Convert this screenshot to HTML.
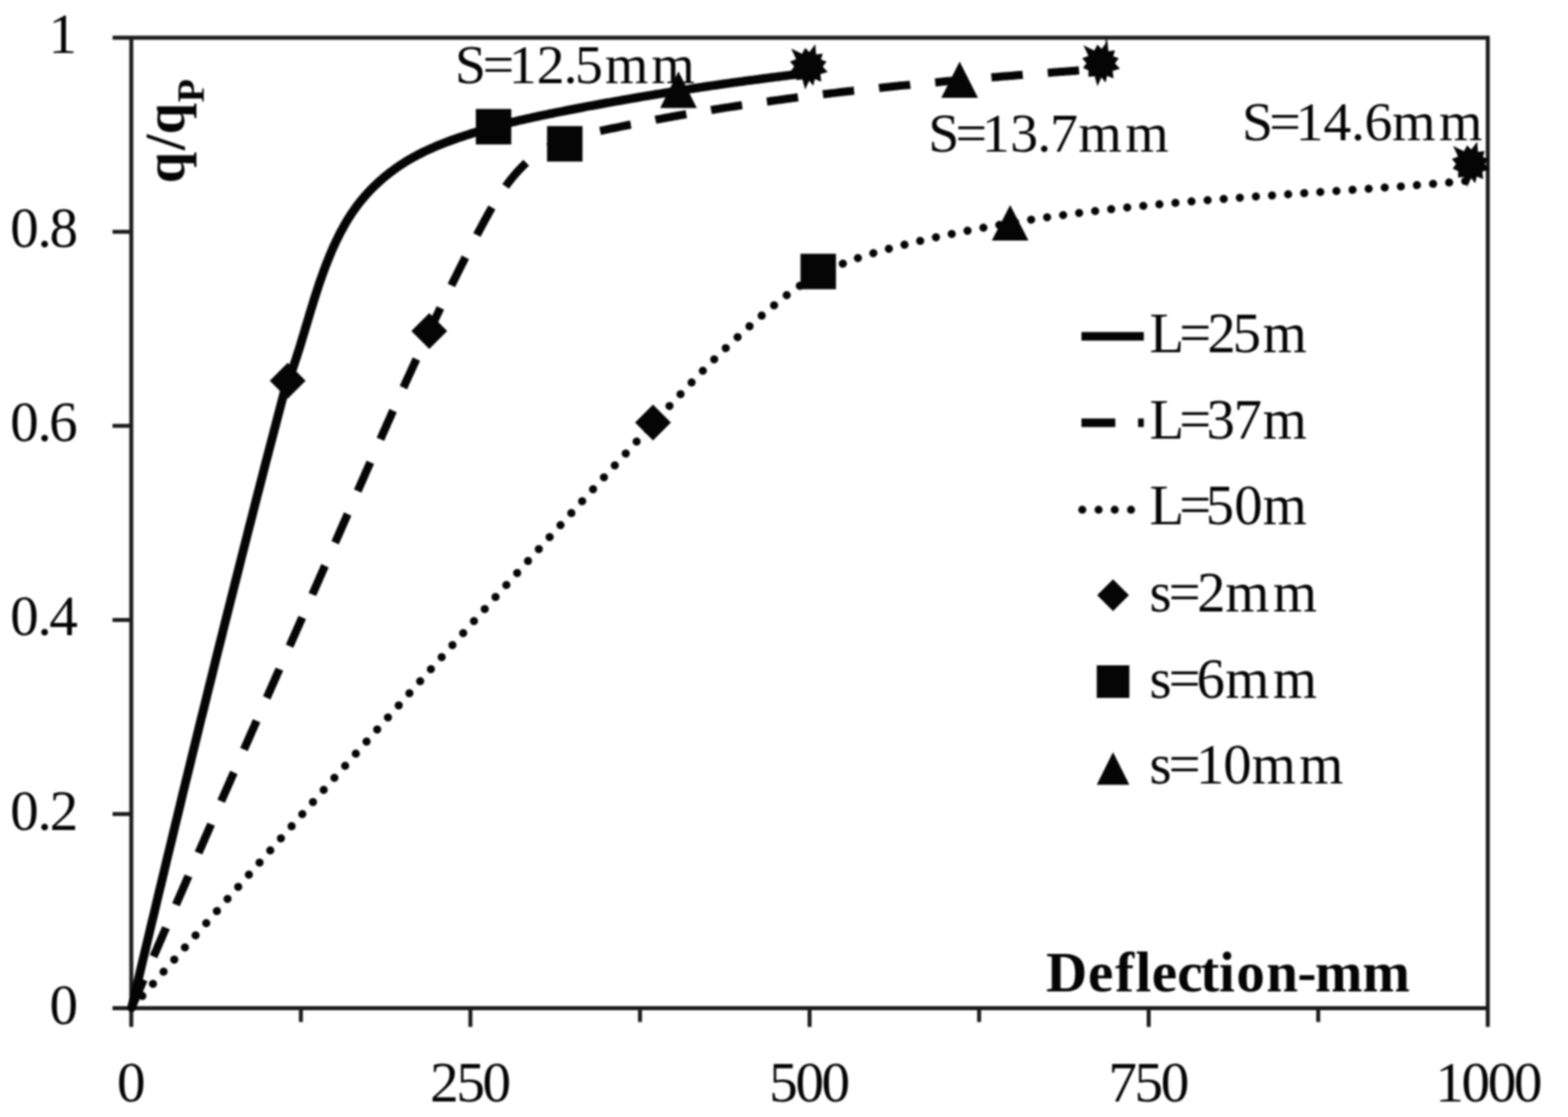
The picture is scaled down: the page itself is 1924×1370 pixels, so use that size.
<!DOCTYPE html>
<html><head><meta charset="utf-8"><title>Chart</title>
<style>
html,body{margin:0;padding:0;background:#fff;}
body{width:1924px;height:1370px;overflow:hidden;}
svg{display:block;filter:blur(1px);}
text{font-family:"Liberation Serif",serif;fill:#050505;}
.b{font-weight:bold;}
</style></head><body>
<svg width="1924" height="1370" viewBox="0 0 1924 1370">
<rect width="1924" height="1370" fill="#fff"/>

<g stroke="#1c1c1c" stroke-width="4.9" fill="none" stroke-linecap="butt">
<line x1="161.1" y1="44.2" x2="161.1" y2="1259.5"/>
<line x1="138.1" y1="1236.5" x2="1827.6" y2="1236.5"/>
<line x1="138.1" y1="46.2" x2="1827.6" y2="46.2"/>
<line x1="1825.6" y1="44.2" x2="1825.6" y2="1259.5"/>
<line x1="138.1" y1="998.4" x2="161.1" y2="998.4"/>
<line x1="138.1" y1="760.4" x2="161.1" y2="760.4"/>
<line x1="138.1" y1="522.3" x2="161.1" y2="522.3"/>
<line x1="138.1" y1="284.3" x2="161.1" y2="284.3"/>
<line x1="369.2" y1="1236.5" x2="369.2" y2="1253.5"/>
<line x1="577.2" y1="1236.5" x2="577.2" y2="1259.5"/>
<line x1="785.3" y1="1236.5" x2="785.3" y2="1253.5"/>
<line x1="993.4" y1="1236.5" x2="993.4" y2="1259.5"/>
<line x1="1201.4" y1="1236.5" x2="1201.4" y2="1253.5"/>
<line x1="1409.5" y1="1236.5" x2="1409.5" y2="1259.5"/>
<line x1="1617.5" y1="1236.5" x2="1617.5" y2="1253.5"/>
<line x1="1357.5" y1="46.2" x2="1357.5" y2="58" stroke-width="2"/>
</g>
<g fill="none" stroke="#050505">
<path d="M161.4,1236.5 L164.5,1223.4 L167.6,1210.3 L170.7,1197.2 L173.8,1184.1 L176.9,1171.1 L180.0,1158.0 L183.1,1144.9 L186.2,1131.8 L189.4,1118.7 L192.5,1105.6 L195.6,1092.5 L198.8,1079.4 L201.9,1066.4 L205.0,1053.3 L208.2,1040.2 L211.4,1027.1 L214.5,1014.0 L217.7,1001.0 L220.9,987.9 L224.0,974.8 L227.2,961.7 L230.4,948.7 L233.6,935.6 L236.8,922.5 L240.0,909.5 L243.2,896.4 L246.4,883.3 L249.7,870.3 L252.9,857.2 L256.1,844.1 L259.4,831.1 L262.6,818.0 L265.8,805.0 L269.1,791.9 L272.4,778.9 L275.6,765.8 L278.9,752.8 L282.2,739.7 L285.5,726.7 L288.8,713.6 L292.1,700.6 L295.4,687.5 L298.7,674.5 L302.0,661.5 L305.3,648.4 L308.7,635.4 L312.0,622.3 L315.3,609.3 L318.7,596.3 L322.0,583.3 L325.4,570.2 L328.8,557.2 L332.2,544.2 L335.6,531.2 L339.0,518.1 L342.4,505.1 L345.8,492.1 L349.2,479.1 L352.6,466.1" stroke-width="10.8" stroke-linejoin="round"/>
<path d="M354.2,465.9 L355.2,463.4 L356.1,460.8 L357.0,458.3 L357.9,455.8 L358.8,453.2 L359.7,450.7 L360.5,448.1 L361.4,445.6 L362.2,443.0 L363.1,440.5 L363.9,437.9 L364.7,435.4 L365.5,432.8 L366.4,430.2 L367.2,427.6 L368.0,425.1 L368.8,422.5 L369.6,419.9 L370.3,417.3 L371.1,414.7 L371.9,412.2 L372.7,409.6 L373.5,407.0 L374.2,404.4 L375.0,401.8 L375.8,399.2 L376.6,396.6 L377.3,394.1 L378.1,391.5 L378.9,388.9 L379.7,386.3 L380.4,383.7 L381.2,381.1 L382.0,378.5 L382.8,376.0 L383.6,373.4 L384.4,370.8 L385.2,368.2 L386.0,365.6 L386.8,363.1 L387.6,360.5 L388.5,357.9 L389.3,355.4 L390.1,352.8 L391.0,350.2 L391.8,347.7 L392.7,345.1 L393.6,342.6 L394.5,340.0 L395.4,337.5 L396.3,335.0 L397.2,332.4 L398.1,329.9 L399.1,327.4 L400.0,324.9 L401.0,322.4 L402.0,319.9 L403.0,317.4 L404.0,314.9 L405.1,312.4 L406.1,309.9 L407.2,307.4 L408.2,305.0 L409.3,302.5 L410.5,300.1 L411.6,297.6 L412.7,295.2 L413.9,292.8 L415.1,290.3 L416.3,287.9 L417.5,285.5 L418.8,283.1 L420.1,280.8 L421.4,278.4 L422.7,276.1 L424.0,273.7 L425.4,271.4 L426.8,269.1 L428.2,266.8 L429.7,264.6 L431.1,262.3 L432.6,260.1 L434.2,257.9 L435.7,255.7 L437.3,253.5 L438.9,251.3 L440.6,249.2 L442.2,247.1 L443.9,245.0 L445.7,242.9 L447.4,240.9 L449.2,238.9 L451.0,236.9 L452.8,234.9 L454.7,232.9 L456.6,231.0 L458.5,229.1 L460.4,227.2 L462.4,225.4 L464.4,223.5 L466.4,221.7 L468.4,219.9 L470.5,218.2 L472.6,216.4 L474.7,214.7 L476.8,213.0 L478.9,211.4 L481.1,209.8 L483.2,208.2 L485.4,206.6 L487.6,205.0 L489.9,203.5 L492.1,202.0 L494.4,200.6 L496.6,199.1 L498.9,197.7 L501.2,196.3 L503.5,195.0 L505.9,193.6 L508.2,192.3 L510.6,191.1 L513.0,189.8 L515.3,188.6 L517.7,187.4 L520.1,186.2 L522.6,185.0 L525.0,183.9 L527.4,182.8 L529.9,181.7 L532.4,180.6 L534.8,179.6 L537.3,178.5 L539.8,177.5 L542.3,176.5 L544.8,175.5 L547.3,174.5 L549.8,173.6 L552.4,172.6 L554.9,171.7 L557.4,170.8 L560.0,169.9 L562.5,169.0 L565.1,168.2 L567.7,167.3 L570.2,166.5 L572.8,165.6 L575.4,164.8 L577.9,164.0 L580.5,163.2 L583.1,162.4 L585.7,161.6 L588.3,160.8 L590.9,160.0 L593.4,159.2 L596.0,158.5 L598.6,157.7 L601.2,157.0 L603.8,156.3 L606.4,155.5 L609.0,154.8 L611.6,154.1 L614.2,153.4 L616.8,152.8 L619.4,152.1 L622.1,151.4 L624.7,150.8 L627.3,150.1 L629.9,149.5 L632.5,148.9 L635.1,148.2 L637.8,147.6 L640.4,147.0 L643.0,146.4 L645.6,145.8 L648.3,145.2 L650.9,144.7 L653.5,144.1 L656.2,143.5 L658.8,142.9 L661.4,142.4 L664.1,141.8 L666.7,141.3 L669.3,140.7 L672.0,140.2 L674.6,139.6 L677.3,139.1 L679.9,138.6 L682.5,138.0 L685.2,137.5 L687.8,137.0 L690.5,136.5 L693.1,135.9 L695.8,135.4 L698.4,134.9 L701.1,134.4 L703.7,133.9 L706.3,133.4 L709.0,132.9 L711.6,132.4 L714.3,131.9 L716.9,131.3 L719.6,130.8 L722.2,130.3 L724.9,129.8 L727.5,129.4 L730.2,128.9 L732.8,128.4 L735.5,127.9 L738.1,127.4 L740.8,126.9 L743.4,126.4 L746.1,125.9 L748.7,125.5 L751.4,125.0 L754.0,124.5 L756.7,124.0 L759.4,123.6 L762.0,123.1 L764.7,122.6 L767.3,122.2 L770.0,121.7 L772.6,121.2 L775.3,120.8 L777.9,120.3 L780.6,119.9 L783.3,119.4 L785.9,118.9 L788.6,118.5 L791.2,118.0 L793.9,117.6 L796.6,117.2 L799.2,116.7 L801.9,116.3 L804.5,115.8 L807.2,115.4 L809.9,115.0 L812.5,114.5 L815.2,114.1 L817.8,113.7 L820.5,113.2 L823.2,112.8 L825.8,112.4 L828.5,112.0 L831.1,111.5 L833.8,111.1 L836.5,110.7 L839.1,110.3 L841.8,109.9 L844.5,109.5 L847.1,109.0 L849.8,108.6 L852.5,108.2 L855.1,107.8 L857.8,107.4 L860.5,107.0 L863.1,106.6 L865.8,106.2 L868.5,105.8 L871.1,105.4 L873.8,105.0 L876.5,104.7 L879.1,104.3 L881.8,103.9 L884.5,103.5 L887.1,103.1 L889.8,102.7 L892.5,102.4 L895.1,102.0 L897.8,101.6 L900.5,101.2 L903.2,100.9 L905.8,100.5 L908.5,100.1 L911.2,99.8 L913.8,99.4 L916.5,99.0 L919.2,98.7 L921.9,98.3 L924.5,98.0 L927.2,97.6 L929.9,97.3 L932.5,96.9 L935.2,96.6 L937.9,96.2 L940.6,95.9 L943.2,95.5 L945.9,95.2 L948.6,94.8 L951.2,94.5 L953.9,94.2 L956.6,93.8 L959.3,93.5 L961.9,93.2 L964.6,92.8 L967.3,92.5 L970.0,92.2 L972.6,91.9 L975.3,91.5 L978.0,91.2" stroke-width="10.8" stroke-linejoin="round"/>
<path d="M161.4,1236.4 L162.3,1234.3 L163.2,1232.1 L164.1,1230.0 L165.0,1227.9 L165.9,1225.8 L166.8,1223.6 L167.7,1221.5 L168.6,1219.4 L169.5,1217.2 L170.4,1215.1 L171.3,1213.0 L172.3,1210.9 L173.2,1208.7 L174.1,1206.6 L175.0,1204.5 L175.9,1202.3 L176.8,1200.2 L177.7,1198.1 L178.6,1196.0 L179.6,1193.8 L180.5,1191.7 L181.4,1189.6 L182.3,1187.5 L183.2,1185.3 L184.1,1183.2 L185.0,1181.1 L186.0,1178.9 L186.9,1176.8 L187.8,1174.7 L188.7,1172.6 L189.6,1170.4 L190.5,1168.3 L191.5,1166.2 L192.4,1164.1 L193.3,1161.9 L194.2,1159.8 L195.1,1157.7 L196.0,1155.6 L197.0,1153.4 L197.9,1151.3 L198.8,1149.2 L199.7,1147.0 L200.6,1144.9 L201.5,1142.8 L202.5,1140.7 L203.4,1138.5 L204.3,1136.4 L205.2,1134.3 L206.2,1132.2 L207.1,1130.0 L208.0,1127.9 L208.9,1125.8 L209.8,1123.7 L210.8,1121.5 L211.7,1119.4 L212.6,1117.3 L213.5,1115.2 L214.4,1113.0 L215.4,1110.9 L216.3,1108.8 L217.2,1106.7 L218.1,1104.5 L219.1,1102.4 L220.0,1100.3 L220.9,1098.2 L221.8,1096.0 L222.8,1093.9 L223.7,1091.8 L224.6,1089.7 L225.5,1087.5 L226.5,1085.4 L227.4,1083.3 L228.3,1081.2 L229.2,1079.0 L230.2,1076.9 L231.1,1074.8 L232.0,1072.7 L232.9,1070.5 L233.9,1068.4 L234.8,1066.3 L235.7,1064.2 L236.7,1062.0 L237.6,1059.9 L238.5,1057.8 L239.4,1055.7 L240.4,1053.5 L241.3,1051.4 L242.2,1049.3 L243.2,1047.2 L244.1,1045.0 L245.0,1042.9 L245.9,1040.8 L246.9,1038.7 L247.8,1036.5 L248.7,1034.4 L249.7,1032.3 L250.6,1030.2 L251.5,1028.0 L252.4,1025.9 L253.4,1023.8 L254.3,1021.7 L255.2,1019.5 L256.2,1017.4 L257.1,1015.3 L258.0,1013.2 L259.0,1011.1 L259.9,1008.9 L260.8,1006.8 L261.8,1004.7 L262.7,1002.6 L263.6,1000.4 L264.6,998.3 L265.5,996.2 L266.4,994.1 L267.4,991.9 L268.3,989.8 L269.2,987.7 L270.2,985.6 L271.1,983.4 L272.0,981.3 L273.0,979.2 L273.9,977.1 L274.8,975.0 L275.8,972.8 L276.7,970.7 L277.6,968.6 L278.6,966.5 L279.5,964.3 L280.4,962.2 L281.4,960.1 L282.3,958.0 L283.2,955.8 L284.2,953.7 L285.1,951.6 L286.0,949.5 L287.0,947.4 L287.9,945.2 L288.8,943.1 L289.8,941.0 L290.7,938.9 L291.6,936.7 L292.6,934.6 L293.5,932.5 L294.4,930.4 L295.4,928.3 L296.3,926.1 L297.3,924.0 L298.2,921.9 L299.1,919.8 L300.1,917.6 L301.0,915.5 L301.9,913.4 L302.9,911.3 L303.8,909.2 L304.7,907.0 L305.7,904.9 L306.6,902.8 L307.5,900.7 L308.5,898.5 L309.4,896.4 L310.4,894.3 L311.3,892.2 L312.2,890.1 L313.2,887.9 L314.1,885.8 L315.0,883.7 L316.0,881.6 L316.9,879.4 L317.8,877.3 L318.8,875.2 L319.7,873.1 L320.7,871.0 L321.6,868.8 L322.5,866.7 L323.5,864.6 L324.4,862.5 L325.3,860.3 L326.3,858.2 L327.2,856.1 L328.2,854.0 L329.1,851.9 L330.0,849.7 L331.0,847.6 L331.9,845.5 L332.8,843.4 L333.8,841.2 L334.7,839.1 L335.7,837.0 L336.6,834.9 L337.5,832.8 L338.5,830.6 L339.4,828.5 L340.3,826.4 L341.3,824.3 L342.2,822.2 L343.1,820.0 L344.1,817.9 L345.0,815.8 L346.0,813.7 L346.9,811.5 L347.8,809.4 L348.8,807.3 L349.7,805.2 L350.6,803.1 L351.6,800.9 L352.5,798.8 L353.4,796.7 L354.4,794.6 L355.3,792.5 L356.3,790.3 L357.2,788.2 L358.1,786.1 L359.1,784.0 L360.0,781.8 L360.9,779.7 L361.9,777.6 L362.8,775.5 L363.7,773.4 L364.7,771.2 L365.6,769.1 L366.6,767.0 L367.5,764.9 L368.4,762.8 L369.4,760.6 L370.3,758.5 L371.2,756.4 L372.2,754.3 L373.1,752.2 L374.0,750.0 L375.0,747.9 L375.9,745.8 L376.8,743.7 L377.8,741.5 L378.7,739.4 L379.7,737.3 L380.6,735.2 L381.5,733.1 L382.5,730.9 L383.4,728.8 L384.3,726.7 L385.3,724.6 L386.2,722.5 L387.1,720.3 L388.1,718.2 L389.0,716.1 L389.9,714.0 L390.9,711.9 L391.8,709.7 L392.7,707.6 L393.7,705.5 L394.6,703.4 L395.5,701.2 L396.5,699.1 L397.4,697.0 L398.3,694.9 L399.3,692.8 L400.2,690.6 L401.1,688.5 L402.1,686.4 L403.0,684.3 L403.9,682.2 L404.9,680.0 L405.8,677.9 L406.7,675.8 L407.7,673.7 L408.6,671.6 L409.5,669.4 L410.4,667.3 L411.4,665.2 L412.3,663.1 L413.2,660.9 L414.2,658.8 L415.1,656.7 L416.0,654.6 L417.0,652.5 L417.9,650.3 L418.8,648.2 L419.7,646.1 L420.7,644.0 L421.6,641.9 L422.5,639.7 L423.5,637.6 L424.4,635.5 L425.3,633.4 L426.2,631.2 L427.2,629.1 L428.1,627.0 L429.0,624.9 L430.0,622.8 L430.9,620.6 L431.8,618.5 L432.7,616.4 L433.7,614.3 L434.6,612.2 L435.5,610.0 L436.5,607.9 L437.4,605.8 L438.3,603.7 L439.2,601.6 L440.2,599.4 L441.1,597.3 L442.0,595.2 L442.9,593.1 L443.9,591.0 L444.8,588.8 L445.7,586.7 L446.7,584.6 L447.6,582.5 L448.5,580.4 L449.4,578.2 L450.4,576.1 L451.3,574.0 L452.2,571.9 L453.2,569.8 L454.1,567.6 L455.0,565.5 L455.9,563.4 L456.9,561.3 L457.8,559.2 L458.7,557.0 L459.7,554.9 L460.6,552.8 L461.5,550.7 L462.5,548.6 L463.4,546.4 L464.3,544.3 L465.3,542.2 L466.2,540.1 L467.1,538.0 L468.1,535.9 L469.0,533.7 L469.9,531.6 L470.9,529.5 L471.8,527.4 L472.7,525.3 L473.7,523.2 L474.6,521.0 L475.5,518.9 L476.5,516.8 L477.4,514.7 L478.4,512.6 L479.3,510.5 L480.2,508.4 L481.2,506.2 L482.1,504.1 L483.1,502.0 L484.0,499.9 L485.0,497.8 L485.9,495.7 L486.8,493.6 L487.8,491.4 L488.7,489.3 L489.7,487.2 L490.6,485.1 L491.6,483.0 L492.5,480.9 L493.5,478.8 L494.4,476.7 L495.4,474.6 L496.3,472.5 L497.3,470.3 L498.2,468.2 L499.2,466.1 L500.2,464.0 L501.1,461.9 L502.1,459.8 L503.0,457.7 L504.0,455.6 L505.0,453.5 L505.9,451.4 L506.9,449.3 L507.8,447.2 L508.8,445.1 L509.8,443.0 L510.7,440.8 L511.7,438.7 L512.7,436.6 L513.7,434.5 L514.6,432.4 L515.6,430.3 L516.6,428.2 L517.5,426.1 L518.5,424.0 L519.5,421.9 L520.5,419.8 L521.5,417.7 L522.4,415.6 L523.4,413.5 L524.4,411.4 L525.4,409.3 L526.4,407.2 L527.4,405.1 L528.3,403.0 L529.3,400.9 L530.3,398.8 L531.3,396.7 L532.3,394.7 L533.3,392.6 L534.3,390.5 L535.3,388.4 L536.3,386.3 L537.3,384.2 L538.3,382.1 L539.3,380.0 L540.3,377.9 L541.3,375.8 L542.3,373.7 L543.3,371.6 L544.3,369.6 L545.4,367.5 L546.4,365.4 L547.4,363.3 L548.4,361.2 L549.4,359.1 L550.4,357.0 L551.5,354.9 L552.5,352.9 L553.5,350.8 L554.5,348.7 L555.6,346.6 L556.6,344.5 L557.6,342.4 L558.7,340.4 L559.7,338.3 L560.7,336.2 L561.8,334.1 L562.8,332.0 L563.8,330.0 L564.9,327.9 L565.9,325.8 L567.0,323.7 L568.0,321.7 L569.1,319.6 L570.1,317.5 L571.2,315.4 L572.2,313.4 L573.3,311.3 L574.4,309.2 L575.4,307.1 L576.5,305.1 L577.5,303.0 L578.6,300.9 L579.7,298.9 L580.8,296.8 L581.8,294.7 L582.9,292.7 L584.0,290.6 L585.1,288.5 L586.1,286.5 L587.2,284.4 L588.3,282.3 L589.4,280.3 L590.5,278.2 L591.6,276.2 L592.7,274.1 L593.8,272.1 L594.9,270.0 L596.0,268.0 L597.2,265.9 L598.3,263.9 L599.4,261.9 L600.6,259.8 L601.7,257.8 L602.9,255.8 L604.1,253.8 L605.3,251.8 L606.5,249.8 L607.7,247.8 L608.9,245.8 L610.1,243.9 L611.4,241.9 L612.6,240.0 L613.9,238.0 L615.2,236.1 L616.5,234.2 L617.8,232.3 L619.2,230.4 L620.5,228.5 L621.9,226.6 L623.3,224.7 L624.7,222.9 L626.1,221.1 L627.6,219.2 L629.1,217.4 L630.5,215.7 L632.0,213.9 L633.6,212.1 L635.1,210.4 L636.7,208.7 L638.3,207.0 L639.9,205.4 L641.5,203.8 L643.1,202.2 L644.8,200.6 L646.5,199.0 L648.2,197.5 L649.9,196.0 L651.7,194.6 L653.4,193.1 L655.2,191.7 L657.0,190.4 L658.9,189.0 L660.7,187.7 L662.6,186.5 L664.5,185.3 L666.5,184.1 L668.4,182.9 L670.4,181.8 L672.4,180.8 L674.4,179.7 L676.4,178.7 L678.5,177.8 L680.6,176.8 L682.6,175.9 L684.8,175.1 L686.9,174.2 L689.0,173.4 L691.2,172.6 L693.3,171.8 L695.5,171.1 L697.7,170.4 L699.9,169.7 L702.1,169.0 L704.4,168.4 L706.6,167.7 L708.8,167.1 L711.1,166.5 L713.4,165.9 L715.6,165.3 L717.9,164.8 L720.2,164.2 L722.5,163.7 L724.7,163.2 L727.0,162.6 L729.3,162.1 L731.6,161.6 L733.9,161.1 L736.2,160.6 L738.5,160.1 L740.8,159.7 L743.1,159.2 L745.4,158.7 L747.7,158.2 L750.0,157.7 L752.2,157.2 L754.5,156.8 L756.8,156.3 L759.1,155.8 L761.4,155.4 L763.7,154.9 L765.9,154.4 L768.2,154.0 L770.5,153.5 L772.8,153.0 L775.1,152.6 L777.3,152.1 L779.6,151.7 L781.9,151.2 L784.2,150.8 L786.4,150.3 L788.7,149.9 L791.0,149.4 L793.3,149.0 L795.5,148.6 L797.8,148.1 L800.1,147.7 L802.4,147.3 L804.6,146.8 L806.9,146.4 L809.2,146.0 L811.5,145.6 L813.7,145.1 L816.0,144.7 L818.3,144.3 L820.6,143.9 L822.9,143.5 L825.1,143.0 L827.4,142.6 L829.7,142.2 L832.0,141.8 L834.3,141.4 L836.5,141.0 L838.8,140.6 L841.1,140.2 L843.4,139.8 L845.7,139.4 L847.9,139.0 L850.2,138.6 L852.5,138.3 L854.8,137.9 L857.1,137.5 L859.4,137.1 L861.6,136.7 L863.9,136.3 L866.2,136.0 L868.5,135.6 L870.8,135.2 L873.1,134.8 L875.4,134.5 L877.6,134.1 L879.9,133.7 L882.2,133.4 L884.5,133.0 L886.8,132.6 L889.1,132.3 L891.4,131.9 L893.7,131.6 L895.9,131.2 L898.2,130.9 L900.5,130.5 L902.8,130.2 L905.1,129.8 L907.4,129.5 L909.7,129.1 L912.0,128.8 L914.3,128.4 L916.5,128.1 L918.8,127.8 L921.1,127.4 L923.4,127.1 L925.7,126.8 L928.0,126.4 L930.3,126.1 L932.6,125.8 L934.9,125.4 L937.2,125.1 L939.5,124.8 L941.8,124.5 L944.0,124.2 L946.3,123.8 L948.6,123.5 L950.9,123.2 L953.2,122.9 L955.5,122.6 L957.8,122.3 L960.1,122.0 L962.4,121.6 L964.7,121.3 L967.0,121.0 L969.3,120.7 L971.6,120.4 L973.9,120.1 L976.2,119.8 L978.5,119.5 L980.8,119.2 L983.1,118.9 L985.4,118.6 L987.7,118.4 L990.0,118.1 L992.3,117.8 L994.6,117.5 L996.9,117.2 L999.2,116.9 L1001.5,116.6 L1003.8,116.3 L1006.1,116.1 L1008.4,115.8 L1010.7,115.5 L1013.0,115.2 L1015.3,115.0 L1017.6,114.7 L1019.9,114.4 L1022.2,114.1 L1024.5,113.9 L1026.8,113.6 L1029.1,113.3 L1031.4,113.1 L1033.7,112.8 L1036.0,112.5 L1038.3,112.3 L1040.6,112.0 L1042.9,111.7 L1045.2,111.5 L1047.5,111.2 L1049.8,111.0 L1052.1,110.7 L1054.4,110.4 L1056.7,110.2 L1059.0,109.9 L1061.3,109.7 L1063.6,109.4 L1065.9,109.2 L1068.2,108.9 L1070.5,108.7 L1072.8,108.4 L1075.1,108.2 L1077.4,108.0 L1079.7,107.7 L1082.0,107.5 L1084.3,107.2 L1086.6,107.0 L1088.9,106.8 L1091.2,106.5 L1093.5,106.3 L1095.9,106.0 L1098.2,105.8 L1100.5,105.6 L1102.8,105.3 L1105.1,105.1 L1107.4,104.9 L1109.7,104.6 L1112.0,104.4 L1114.3,104.2 L1116.6,104.0 L1118.9,103.7 L1121.2,103.5 L1123.5,103.3 L1125.8,103.1 L1128.1,102.8 L1130.4,102.6 L1132.8,102.4 L1135.1,102.2 L1137.4,102.0 L1139.7,101.7 L1142.0,101.5 L1144.3,101.3 L1146.6,101.1 L1148.9,100.9 L1151.2,100.7 L1153.5,100.5 L1155.8,100.2 L1158.1,100.0 L1160.4,99.8 L1162.8,99.6 L1165.1,99.4 L1167.4,99.2 L1169.7,99.0 L1172.0,98.8 L1174.3,98.6 L1176.6,98.4 L1178.9,98.2 L1181.2,98.0 L1183.5,97.8 L1185.8,97.5 L1188.2,97.3 L1190.5,97.1 L1192.8,96.9 L1195.1,96.7 L1197.4,96.5 L1199.7,96.3 L1202.0,96.1 L1204.3,95.9 L1206.6,95.8 L1208.9,95.6 L1211.2,95.4 L1213.6,95.2 L1215.9,95.0 L1218.2,94.8 L1220.5,94.6 L1222.8,94.4 L1225.1,94.2 L1227.4,94.0 L1229.7,93.8 L1232.0,93.6 L1234.3,93.4 L1236.7,93.2 L1239.0,93.1 L1241.3,92.9 L1243.6,92.7 L1245.9,92.5 L1248.2,92.3 L1250.5,92.1 L1252.8,91.9 L1255.1,91.7 L1257.4,91.6 L1259.8,91.4 L1262.1,91.2 L1264.4,91.0 L1266.7,90.8 L1269.0,90.6 L1271.3,90.5 L1273.6,90.3 L1275.9,90.1 L1278.2,89.9 L1280.5,89.7 L1282.9,89.5 L1285.2,89.4 L1287.5,89.2 L1289.8,89.0 L1292.1,88.8 L1294.4,88.6 L1296.7,88.5 L1299.0,88.3 L1301.3,88.1 L1303.6,87.9 L1306.0,87.7 L1308.3,87.6 L1310.6,87.4 L1312.9,87.2 L1315.2,87.0 L1317.5,86.9 L1319.8,86.7 L1322.1,86.5 L1324.4,86.3 L1326.7,86.2 L1329.1,86.0 L1331.4,85.8 L1333.7,85.6 L1336.0,85.4" stroke-width="10.0" stroke-dasharray="0 0.0 37.9 30.8 38.5 30.8 38.5 30.8 38.5 30.8 38.5 30.8 38.5 30.8 38.5 30.8 38.5 30.8 38.5 30.8 38.5 30.8 38.5 30.8 38.5 30.8 38.5 30.8 38.5 30.8 38.5 30.8 38.5 30.8 38.5 33.31 35.99 30.8 38.5 30.8 38.5 30.8 38.5 30.8 38.5 30.8 38.5 30.8 38.5 30.8 38.5 30.8 38.5 30.8 38.5 9999"/>
<path d="M161.5,1236.4 L164.2,1233.3 L166.9,1230.2 L169.6,1227.2 L172.3,1224.1 L175.1,1221.0 L177.8,1217.9 L180.5,1214.8 L183.2,1211.7 L185.9,1208.6 L188.7,1205.5 L191.4,1202.4 L194.1,1199.3 L196.8,1196.2 L199.5,1193.1 L202.3,1190.0 L205.0,1186.9 L207.7,1183.8 L210.4,1180.7 L213.2,1177.6 L215.9,1174.5 L218.6,1171.4 L221.3,1168.3 L224.1,1165.2 L226.8,1162.1 L229.5,1159.0 L232.2,1155.9 L234.9,1152.8 L237.7,1149.7 L240.4,1146.7 L243.1,1143.6 L245.8,1140.5 L248.6,1137.4 L251.3,1134.3 L254.0,1131.2 L256.7,1128.1 L259.5,1125.0 L262.2,1121.9 L264.9,1118.8 L267.6,1115.7 L270.4,1112.6 L273.1,1109.5 L275.8,1106.4 L278.5,1103.3 L281.3,1100.2 L284.0,1097.1 L286.7,1094.0 L289.5,1090.9 L292.2,1087.8 L294.9,1084.7 L297.6,1081.6 L300.4,1078.5 L303.1,1075.4 L305.8,1072.3 L308.6,1069.2 L311.3,1066.1 L314.0,1063.0 L316.7,1059.9 L319.5,1056.8 L322.2,1053.7 L324.9,1050.6 L327.7,1047.6 L330.4,1044.5 L333.1,1041.4 L335.8,1038.3 L338.6,1035.2 L341.3,1032.1 L344.0,1029.0 L346.8,1025.9 L349.5,1022.8 L352.2,1019.7 L355.0,1016.6 L357.7,1013.5 L360.4,1010.4 L363.2,1007.3 L365.9,1004.2 L368.6,1001.1 L371.4,998.0 L374.1,994.9 L376.8,991.8 L379.6,988.7 L382.3,985.7 L385.0,982.6 L387.8,979.5 L390.5,976.4 L393.2,973.3 L396.0,970.2 L398.7,967.1 L401.5,964.0 L404.2,960.9 L406.9,957.8 L409.7,954.7 L412.4,951.6 L415.1,948.5 L417.9,945.5 L420.6,942.4 L423.4,939.3 L426.1,936.2 L428.8,933.1 L431.6,930.0 L434.3,926.9 L437.1,923.8 L439.8,920.7 L442.5,917.6 L445.3,914.5 L448.0,911.5 L450.8,908.4 L453.5,905.3 L456.2,902.2 L459.0,899.1 L461.7,896.0 L464.5,892.9 L467.2,889.8 L470.0,886.8 L472.7,883.7 L475.4,880.6 L478.2,877.5 L480.9,874.4 L483.7,871.3 L486.4,868.2 L489.2,865.2 L491.9,862.1 L494.7,859.0 L497.4,855.9 L500.2,852.8 L502.9,849.7 L505.6,846.6 L508.4,843.6 L511.1,840.5 L513.9,837.4 L516.6,834.3 L519.4,831.2 L522.1,828.2 L524.9,825.1 L527.6,822.0 L530.4,818.9 L533.1,815.8 L535.9,812.7 L538.6,809.7 L541.4,806.6 L544.1,803.5 L546.9,800.4 L549.6,797.4 L552.4,794.3 L555.2,791.2 L557.9,788.1 L560.7,785.0 L563.4,782.0 L566.2,778.9 L568.9,775.8 L571.7,772.7 L574.4,769.7 L577.2,766.6 L580.0,763.5 L582.7,760.4 L585.5,757.4 L588.2,754.3 L591.0,751.2 L593.7,748.2 L596.5,745.1 L599.3,742.0 L602.0,738.9 L604.8,735.9 L607.5,732.8 L610.3,729.7 L613.1,726.7 L615.8,723.6 L618.6,720.5 L621.3,717.5 L624.1,714.4 L626.9,711.3 L629.6,708.3 L632.4,705.2 L635.2,702.1 L637.9,699.1 L640.7,696.0 L643.5,692.9 L646.2,689.9 L649.0,686.8 L651.8,683.7 L654.5,680.7 L657.3,677.6 L660.1,674.6 L662.8,671.5 L665.6,668.4 L668.4,665.4 L671.1,662.3 L673.9,659.3 L676.7,656.2 L679.4,653.1 L682.2,650.1 L685.0,647.0 L687.8,644.0 L690.5,640.9 L693.3,637.9 L696.1,634.8 L698.9,631.8 L701.6,628.7 L704.4,625.6 L707.2,622.6 L710.0,619.5 L712.7,616.5 L715.5,613.4 L718.3,610.4 L721.1,607.3 L723.8,604.3 L726.6,601.2 L729.4,598.2 L732.2,595.2 L735.0,592.1 L737.7,589.1 L740.5,586.0 L743.3,583.0 L746.1,579.9 L748.9,576.9 L751.6,573.8 L754.4,570.8 L757.2,567.8 L760.0,564.7 L762.8,561.7 L765.6,558.6 L768.4,555.6 L771.1,552.6 L773.9,549.5 L776.7,546.5 L779.5,543.4 L782.3,540.4 L785.1,537.4 L787.9,534.3 L790.7,531.3 L793.4,528.3 L796.2,525.2 L799.0,522.2 L801.8,519.2 L804.6,516.1 L807.4,513.1 L810.2,510.1 L813.0,507.1 L815.8,504.0 L818.6,501.0 L821.4,498.0 L824.2,495.0 L827.0,492.0 L829.8,488.9 L832.6,485.9 L835.5,482.9 L838.3,479.9 L841.1,476.9 L843.9,474.0 L846.8,471.0 L849.6,468.0 L852.5,465.0 L855.4,462.1 L858.2,459.1 L861.1,456.1 L864.0,453.2 L866.9,450.3 L869.8,447.3 L872.7,444.4 L875.6,441.5 L878.6,438.6 L881.5,435.7 L884.5,432.8 L887.4,430.0 L890.4,427.1 L893.4,424.2 L896.4,421.4 L899.4,418.6 L902.4,415.8 L905.5,413.0 L908.5,410.2 L911.6,407.4 L914.7,404.6 L917.8,401.8 L920.9,399.1 L924.0,396.4 L927.1,393.6 L930.2,390.9 L933.4,388.2 L936.5,385.5 L939.7,382.8 L942.9,380.2 L946.1,377.5 L949.3,374.9 L952.5,372.2 L955.7,369.6 L959.0,367.0 L962.2,364.4 L965.5,361.9 L968.8,359.4 L972.1,356.9 L975.5,354.5 L978.9,352.2 L982.3,349.9 L985.7,347.6 L989.2,345.5 L992.7,343.4 L996.3,341.3 L999.8,339.3 L1003.4,337.4 L1007.1,335.5 L1010.7,333.7 L1014.4,331.9 L1018.1,330.2 L1021.8,328.5 L1025.6,326.9 L1029.4,325.3 L1033.1,323.8 L1037.0,322.3 L1040.8,320.8 L1044.6,319.4 L1048.5,318.0 L1052.4,316.6 L1056.3,315.3 L1060.2,314.0 L1064.1,312.8 L1068.1,311.6 L1072.0,310.4 L1076.0,309.2 L1080.0,308.1 L1083.9,306.9 L1087.9,305.9 L1091.9,304.8 L1095.9,303.7 L1099.9,302.7 L1104.0,301.6 L1108.0,300.6 L1112.0,299.6 L1116.0,298.6 L1120.0,297.7 L1124.0,296.7 L1128.1,295.7 L1132.1,294.8 L1136.1,293.9 L1140.2,292.9 L1144.2,292.0 L1148.2,291.1 L1152.3,290.2 L1156.3,289.4 L1160.3,288.5 L1164.4,287.6 L1168.4,286.8 L1172.4,286.0 L1176.5,285.1 L1180.5,284.3 L1184.6,283.5 L1188.6,282.7 L1192.7,281.9 L1196.7,281.2 L1200.8,280.4 L1204.8,279.6 L1208.9,278.9 L1213.0,278.1 L1217.0,277.4 L1221.1,276.7 L1225.1,276.0 L1229.2,275.3 L1233.3,274.6 L1237.3,273.9 L1241.4,273.2 L1245.5,272.6 L1249.5,271.9 L1253.6,271.2 L1257.7,270.6 L1261.8,270.0 L1265.8,269.3 L1269.9,268.7 L1274.0,268.1 L1278.1,267.5 L1282.2,266.9 L1286.2,266.3 L1290.3,265.8 L1294.4,265.2 L1298.5,264.6 L1302.6,264.1 L1306.7,263.5 L1310.7,263.0 L1314.8,262.4 L1318.9,261.9 L1323.0,261.4 L1327.1,260.9 L1331.2,260.4 L1335.3,259.9 L1339.4,259.4 L1343.5,258.9 L1347.6,258.4 L1351.7,257.9 L1355.8,257.5 L1359.9,257.0 L1364.0,256.5 L1368.1,256.1 L1372.2,255.6 L1376.3,255.2 L1380.4,254.8 L1384.5,254.3 L1388.6,253.9 L1392.7,253.5 L1396.8,253.1 L1400.9,252.7 L1405.0,252.3 L1409.1,251.9 L1413.2,251.5 L1417.4,251.1 L1421.5,250.7 L1425.6,250.3 L1429.7,249.9 L1433.8,249.5 L1437.9,249.2 L1442.0,248.8 L1446.1,248.5 L1450.3,248.1 L1454.4,247.7 L1458.5,247.4 L1462.6,247.0 L1466.7,246.7 L1470.8,246.4 L1474.9,246.0 L1479.1,245.7 L1483.2,245.4 L1487.3,245.0 L1491.4,244.7 L1495.5,244.4 L1499.7,244.1 L1503.8,243.8 L1507.9,243.4 L1512.0,243.1 L1516.1,242.8 L1520.3,242.5 L1524.4,242.2 L1528.5,241.9 L1532.6,241.6 L1536.7,241.3 L1540.9,241.0 L1545.0,240.7 L1549.1,240.4 L1553.2,240.1 L1557.3,239.9 L1561.5,239.6 L1565.6,239.3 L1569.7,239.0 L1573.8,238.7 L1578.0,238.4 L1582.1,238.1 L1586.2,237.9 L1590.3,237.6 L1594.4,237.3 L1598.6,237.0 L1602.7,236.7 L1606.8,236.5 L1610.9,236.2 L1615.1,235.9 L1619.2,235.6 L1623.3,235.3 L1627.4,235.1 L1631.5,234.8 L1635.7,234.5 L1639.8,234.2 L1643.9,233.9 L1648.0,233.7 L1652.1,233.4 L1656.3,233.1 L1660.4,232.8 L1664.5,232.5 L1668.6,232.2 L1672.7,231.9 L1676.8,231.7 L1681.0,231.4 L1685.1,231.1 L1689.2,230.8 L1693.3,230.5 L1697.4,230.2 L1701.5,229.9 L1705.6,229.6 L1709.8,229.3 L1713.9,229.0 L1718.0,228.7 L1722.1,228.4 L1726.2,228.0 L1730.3,227.7 L1734.4,227.4 L1738.5,227.1 L1742.6,226.8 L1746.8,226.4 L1750.9,226.1 L1755.0,225.8 L1759.1,225.4 L1763.2,225.1 L1767.3,224.8 L1771.4,224.4 L1775.5,224.1 L1779.6,223.7 L1783.7,223.3 L1787.8,223.0 L1791.9,222.6 L1796.0,222.3 L1800.1,221.9 L1804.2,221.5 L1808.3,221.1 L1812.4,220.7 L1816.5,220.3" stroke-width="10" stroke-linecap="round" stroke-dasharray="0.01 19.8" stroke-dashoffset="0"/>
<line x1="1327" y1="412.5" x2="1403.5" y2="412.5" stroke-width="10.5"/>
<line x1="1327" y1="518.5" x2="1368.5" y2="518.5" stroke-width="10.5"/>
<line x1="1396.5" y1="518.5" x2="1403.5" y2="518.5" stroke-width="10.5"/>
</g>
<g fill="#050505">
<circle cx="1328" cy="625.2" r="4.9"/>
<circle cx="1348" cy="625.2" r="4.9"/>
<circle cx="1367.8" cy="625.2" r="4.9"/>
<circle cx="1387.8" cy="625.2" r="4.9"/>
<polygon points="353,445 375,467 353,489 331,467"/>
<polygon points="526.75,384 548.75,406 526.75,428 504.75,406"/>
<polygon points="801.25,496.25 823.25,518.25 801.25,540.25 779.25,518.25"/>
<rect x="583.85" y="133.65" width="43.5" height="43.5"/>
<rect x="671.25" y="154.65" width="43.5" height="43.5"/>
<rect x="982.25" y="311.25" width="43.5" height="43.5"/>
<polygon points="832.5,87.5 855.0,132.5 810.0,132.5"/>
<polygon points="1177.5,75.5 1200.0,120 1155.0,120"/>
<polygon points="1239.5,251.5 1262.0,295 1217.0,295"/>
<polygon points="1014.2,75.5 1007.4,73.1 1009.5,65.8 1001.4,66.7 1000.3,54.2 993.1,64.0 988.0,58.8 984.1,65.9 970.8,59.6 976.9,72.6 969.3,75.4 974.5,81.5 970.3,87.3 977.1,90.6 976.9,98.2 984.6,97.4 988.0,109.7 992.9,99.0 997.9,105.3 999.9,97.1 1007.7,100.3 1006.7,91.0 1015.6,88.3 1009.5,81.7"/>
<polygon points="1372.8,71.5 1366.0,69.1 1368.1,61.8 1360.0,62.7 1358.9,50.2 1351.7,60.0 1346.6,54.8 1342.7,61.9 1329.4,55.6 1335.5,68.6 1327.9,71.4 1333.1,77.5 1328.9,83.3 1335.7,86.6 1335.5,94.2 1343.2,93.4 1346.6,105.7 1351.5,95.0 1356.5,101.3 1358.5,93.1 1366.3,96.3 1365.3,87.0 1374.2,84.3 1368.1,77.7"/>
<polygon points="1826.4,195.0 1819.6,192.6 1821.7,185.3 1813.6,186.2 1812.5,173.7 1805.3,183.5 1800.2,178.3 1796.3,185.4 1783.0,179.1 1789.1,192.1 1781.5,194.9 1786.7,201.0 1782.5,206.8 1789.3,210.1 1789.1,217.7 1796.8,216.9 1800.2,229.2 1805.1,218.5 1810.1,224.8 1812.1,216.6 1819.9,219.8 1818.9,210.5 1827.8,207.8 1821.7,201.2"/>
<polygon points="1365.75,710.5 1385.25,730 1365.75,749.5 1346.25,730"/>
<rect x="1345.75" y="816.0" width="40" height="40"/>
<polygon points="1365.75,922.5 1385.75,962.5 1345.75,962.5"/>
</g>
<text x="558.2 592.2 624.3 658.4 691.5 705.5 742.3 799.2" y="102.4" font-size="68.5">S=12.5mm</text>
<text x="1139.1 1172.6 1204.8 1239.6 1272.8 1288.4 1323.3 1380.8" y="185.6" font-size="68.5">S=13.7mm</text>
<text x="1524.1 1557.6 1589.8 1623.7 1657.8 1674.3 1708.3 1765.8" y="171.5" font-size="68.5">S=14.6mm</text>
<text x="1410.6 1446.9 1481.5 1512.5 1549.5" y="431.5" font-size="69.5">L=25m</text>
<text x="1410.6 1446.9 1480.6 1513.7 1549.5" y="537.5" font-size="69.5">L=37m</text>
<text x="1410.6 1446.9 1479.6 1514.5 1549.5" y="643.2" font-size="69.5">L=50m</text>
<text x="1410.4 1434.0 1469.0 1503.5 1561.9" y="749.6" font-size="69.5">s=2mm</text>
<text x="1410.4 1434.0 1468.3 1503.5 1561.9" y="855.7" font-size="69.5">s=6mm</text>
<text x="1410.4 1434.0 1467.4 1501.1 1535.9 1594.3" y="961.3" font-size="69.5">s=10mm</text>
<text x="1283.6 1335.1 1368.3 1393.3 1413.3 1444.5 1472.8 1495.8 1516.9 1553.7 1592.0 1613.6 1671.8" y="1215.5" font-size="70" class="b">Deflection-mm</text>
<text x="59.4" y="65.2" font-size="70">1</text>
<text x="12.4 46.1 60.7" y="303.3" font-size="70">0.8</text>
<text x="12.4 46.1 60.3" y="541.4" font-size="70">0.6</text>
<text x="12.4 46.1 60.5" y="779.4" font-size="70">0.4</text>
<text x="12.4 46.1 61.0" y="1017.5" font-size="70">0.2</text>
<text x="60.7" y="1255.6" font-size="70">0</text>
<text x="143.4" y="1351.3" font-size="70.3">0</text>
<text x="527.8 559.9 592.1" y="1351.3" font-size="70.3">250</text>
<text x="943.8 975.9 1008.1" y="1351.3" font-size="70.3">500</text>
<text x="1359.9 1392.0 1424.2" y="1351.3" font-size="70.3">750</text>
<text x="1761.2 1793.3 1825.5 1857.6" y="1351.3" font-size="70.3">1000</text>
<text transform="translate(226,223) rotate(-90)" class="b" font-size="69" x="-1.7 39.1 58.2" y="0">q/q<tspan font-size="47" x="97.5" y="23.5">P</tspan></text>
</svg>
</body></html>
